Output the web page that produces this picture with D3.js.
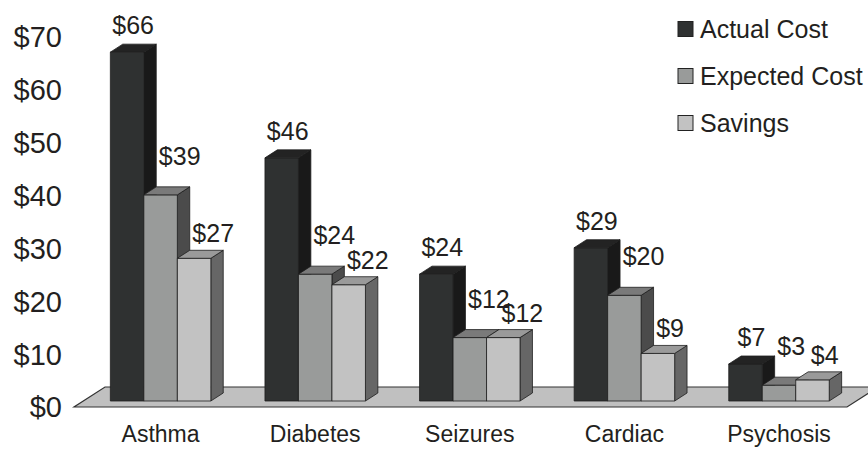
<!DOCTYPE html>
<html>
<head>
<meta charset="utf-8">
<script src="https://cdn.jsdelivr.net/npm/d3@7"></script>
<style>
  body { margin: 0; background: #fff; }
  text { font-family: "Liberation Sans", Arial, sans-serif; fill: #231f20; }
</style>
</head>
<body>
<div id="chart"></div>
<script>
// ============
// Data
// ============
var categories = ["Asthma", "Diabetes", "Seizures", "Cardiac", "Psychosis"];
var seriesNames = ["Actual Cost", "Expected Cost", "Savings"];
var actualCost = [66, 46, 24, 29, 7];
var expectedCost = [39, 24, 12, 20, 3];
var savings = [27, 22, 12, 9, 4];
var yTicks = [0, 10, 20, 30, 40, 50, 60, 70];

var seriesValues = [actualCost, expectedCost, savings];

// ============
// Set up
// ============
var svgWidth = 868;
var svgHeight = 449;

// faces: front, top, side
var colors = [
  { front: "#2f3131", top: "#232323", side: "#191919" },
  { front: "#999b9a", top: "#7a7a7a", side: "#4b4b4b" },
  { front: "#c2c2c2", top: "#9a9a9a", side: "#666666" }
];
// gap between label baseline and bar top, per series
var labelGap = [10, 22, 8];

var svg = d3.select("#chart")
  .append("svg")
  .attr("width", svgWidth)
  .attr("height", svgHeight);

// oblique depth: one unit back = (dx, dy)
var depthX = 1.55, depthY = -1;
var floorDepth = 20;
var barFront = 6;
var barDepth = 8;

var xScale = d3.scaleBand()
  .domain(categories)
  .range([74, 847])
  .paddingInner(0.35)
  .paddingOuter(0.175);

var yScale = d3.scaleLinear()
  .domain([0, 70])
  .range([407, 37]);

var barWidth = xScale.bandwidth() / seriesNames.length;

// ============
// Floor
// ============
var y0 = yScale(0);
var floorPts = [
  [xScale.range()[0], y0],
  [xScale.range()[1], y0],
  [xScale.range()[1] + floorDepth * depthX, y0 + floorDepth * depthY],
  [xScale.range()[0] + floorDepth * depthX, y0 + floorDepth * depthY]
];
svg.append("polygon")
  .attr("points", floorPts.map(p => p.join(",")).join(" "))
  .attr("fill", "#c0c0c0")
  .attr("stroke", "#333")
  .attr("stroke-width", 1.2);

// ============
// Y axis labels
// ============
svg.append("g").selectAll("text")
  .data(yTicks)
  .enter()
  .append("text")
  .attr("x", 62)
  .attr("y", d => yScale(d))
  .attr("dy", "0.36em")
  .attr("text-anchor", "end")
  .style("font-size", "29px")
  .text(d => "$" + d);

// ============
// Bars
// ============
var fx = barFront * depthX, fy = barFront * depthY;
var bx = barDepth * depthX, by = barDepth * depthY;

var barsGroup = svg.append("g");
var labelsGroup = svg.append("g");

categories.forEach(function(cat, ci) {
  seriesValues.forEach(function(vals, si) {
    var v = vals[ci];
    var x1 = xScale(cat) + si * barWidth + fx;
    var x2 = x1 + barWidth;
    var yb = yScale(0) + fy;
    var yt = yScale(v) + fy;
    var c = colors[si];

    var front = [[x1, yb], [x2, yb], [x2, yt], [x1, yt]];
    var top = [[x1, yt], [x2, yt], [x2 + bx, yt + by], [x1 + bx, yt + by]];
    var side = [[x2, yb], [x2 + bx, yb + by], [x2 + bx, yt + by], [x2, yt]];

    [[side, c.side], [front, c.front], [top, c.top]].forEach(function(f) {
      barsGroup.append("polygon")
        .attr("points", f[0].map(p => p.join(",")).join(" "))
        .attr("fill", f[1])
        .attr("stroke", "#1e1e1e")
        .attr("stroke-width", 0.8)
        .attr("stroke-linejoin", "round");
    });

    // value label: first series centred over bar, others pushed right of previous bar
    var lbl = labelsGroup.append("text")
      .attr("y", yt + by - labelGap[si])
      .style("font-size", "25px")
      .text("$" + v);
    if (si === 0) {
      lbl.attr("x", (x1 + x2) / 2 + 6).attr("text-anchor", "middle");
    } else {
      lbl.attr("x", x1 + 15).attr("text-anchor", "start");
    }
  });
});

// ============
// Category labels
// ============
svg.append("g").selectAll("text")
  .data(categories)
  .enter()
  .append("text")
  .attr("x", d => xScale(d) + xScale.bandwidth() / 2 + fx)
  .attr("y", 442)
  .attr("text-anchor", "middle")
  .style("font-size", "23px")
  .text(d => d);

// ============
// Legend
// ============
var legend = svg.append("g").selectAll("g")
  .data(seriesNames)
  .enter()
  .append("g")
  .attr("transform", (d, i) => `translate(678, ${29 + i * 47})`);

legend.append("rect")
  .attr("x", 0)
  .attr("y", -7.5)
  .attr("width", 15)
  .attr("height", 15)
  .attr("fill", (d, i) => colors[i].front)
  .attr("stroke", "#222")
  .attr("stroke-width", 1);

legend.append("text")
  .attr("x", 22)
  .attr("y", 0)
  .attr("dy", "0.36em")
  .style("font-size", "25px")
  .text(d => d);
</script>
</body>
</html>
